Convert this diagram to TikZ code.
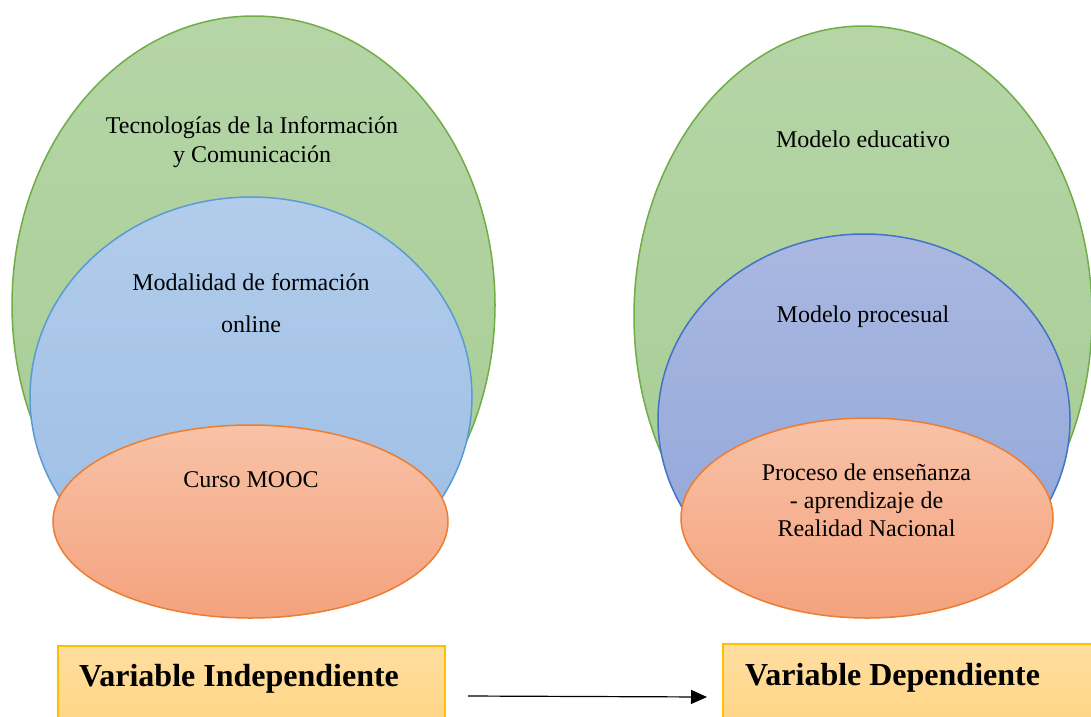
\documentclass[tikz,border=0pt]{standalone}
\usepackage{fontspec}
\setmainfont{Liberation Serif}
\usetikzlibrary{shapes.geometric,arrows.meta}
\definecolor{gTop}{HTML}{B5D5A6}
\definecolor{gBot}{HTML}{A6CC93}
\definecolor{gLine}{HTML}{70AD47}
\definecolor{bTop}{HTML}{B2CCEB}
\definecolor{bBot}{HTML}{9BBDE4}
\definecolor{bLine}{HTML}{5B9BD5}
\definecolor{dTop}{HTML}{AAB8E1}
\definecolor{dBot}{HTML}{8FA5D8}
\definecolor{dLine}{HTML}{4472C4}
\definecolor{oTop}{HTML}{F8C2A7}
\definecolor{oBot}{HTML}{F4A27D}
\definecolor{oLine}{HTML}{ED7D31}
\definecolor{yTop}{HTML}{FFDEA0}
\definecolor{yBot}{HTML}{FFD37E}
\definecolor{yLine}{HTML}{FFC000}
\tikzset{
  venn/.style={ellipse, inner sep=0pt, outer sep=0pt, line width=1.5pt},
  greenset/.style={venn, draw=gLine, top color=gTop, bottom color=gBot},
  blueset/.style={venn, draw=bLine, top color=bTop, bottom color=bBot},
  dblueset/.style={venn, draw=dLine, top color=dTop, bottom color=dBot},
  orangeset/.style={venn, draw=oLine, top color=oTop, bottom color=oBot},
  lbl/.style={anchor=base, inner sep=0pt, font=\rmfamily\fontsize{24}{28}\selectfont},
  varbox/.style={draw=yLine, line width=2pt, top color=yTop, bottom color=yBot, anchor=north west, inner sep=0pt},
  varlbl/.style={anchor=base west, inner sep=0pt, font=\rmfamily\fontsize{32}{36}\selectfont\bfseries},
  conn/.style={-{Triangle[length=16pt,width=14pt]}, line width=1.2pt, black}
}
\begin{document}
\begin{tikzpicture}[x=1pt,y=-1pt]
\useasboundingbox (0,0) rectangle (1091,716);
\clip (0,0) rectangle (1091,716);
% left sets
\node[greenset, minimum width=483pt, minimum height=578pt] (tic) at (253.5,305) {};
\node[blueset, minimum width=442pt, minimum height=400pt] (mod) at (251,397) {};
\node[orangeset, minimum width=395pt, minimum height=193pt] (mooc) at (250.5,521.5) {};
\node[lbl] (t1) at (252,133) {Tecnologías de la Información};
\node[lbl] (t2) at (252,162) {y Comunicación};
\node[lbl] (m1) at (251,290) {Modalidad de formación};
\node[lbl] (m2) at (251,332) {online};
\node[lbl] (c1) at (251,487) {Curso MOOC};
% right sets
\node[greenset, minimum width=458pt, minimum height=580pt] (edu) at (863,316) {};
\node[dblueset, minimum width=412pt, minimum height=372pt] (proc) at (864,420) {};
\node[orangeset, minimum width=372pt, minimum height=200pt] (ens) at (867,518) {};
\node[lbl] (e1) at (863,147) {Modelo educativo};
\node[lbl] (p1) at (863,322) {Modelo procesual};
\node[lbl] (r1) at (866.5,480) {Proceso de enseñanza};
\node[lbl] (r2) at (866.5,508) {- aprendizaje de};
\node[lbl] (r3) at (866.5,536) {Realidad Nacional};
% boxes
\node[varbox, minimum width=387pt, minimum height=100pt] (vi) at (57,645) {};
\node[varbox, minimum width=400pt, minimum height=100pt] (vd) at (722,643) {};
\node[varlbl] (vil) at (79,686) {Variable Independiente};
\node[varlbl] (vdl) at (745,685) {Variable Dependiente};
% arrow
\coordinate (a1) at (468,696);
\coordinate (a2) at (707,697);
\draw[conn] (a1) -- (a2);
\end{tikzpicture}
\end{document}
